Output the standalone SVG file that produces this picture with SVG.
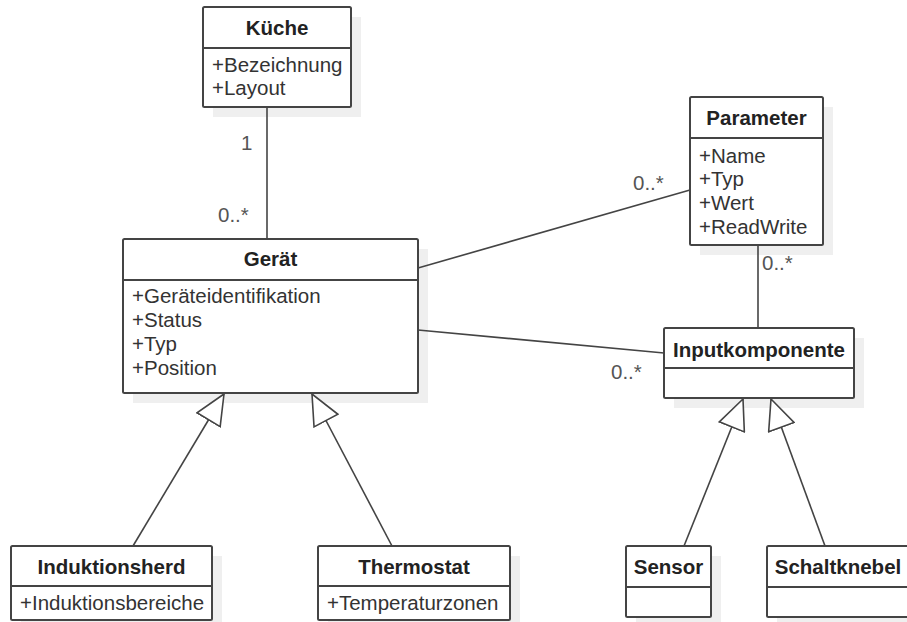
<svg xmlns="http://www.w3.org/2000/svg" width="907" height="622" viewBox="0 0 907 622">
  <style>
    .shadow { fill: #efefef; }
    .box { fill: #ffffff; stroke: #444444; stroke-width: 2; }
    .sep { stroke: #444444; stroke-width: 2; }
    .title { font-family: "Liberation Sans", Arial, sans-serif; font-size: 20.5px; font-weight: bold; fill: #222222; text-anchor: middle; }
    .attr { font-family: "Liberation Sans", Arial, sans-serif; font-size: 20.5px; fill: #333333; }
    .mult { font-family: "Liberation Sans", Arial, sans-serif; font-size: 20.5px; fill: #555555; }
    .assoc { stroke: #444444; stroke-width: 1.6; fill: none; }
    .gen { stroke: #444444; stroke-width: 1.6; fill: none; marker-end: url(#inherit); }
  </style>
  <defs>
    <marker id="inherit" markerUnits="userSpaceOnUse" viewBox="-1 -1 33 29" refX="30" refY="13.5" markerWidth="33" markerHeight="29" orient="auto">
      <path d="M30,13.5 L0,0 L0,27 Z" fill="#ffffff" stroke="#444444" stroke-width="1.6" stroke-linejoin="miter"/>
    </marker>
  </defs>

  <rect width="907" height="622" fill="#ffffff"/>

  <!-- drop shadows of the class boxes -->
  <g id="shadows">
    <rect class="shadow" x="213" y="17" width="148" height="100"/>
    <rect class="shadow" x="133" y="249" width="295" height="154"/>
    <rect class="shadow" x="700" y="107" width="133" height="148"/>
    <rect class="shadow" x="674" y="338" width="190" height="70"/>
    <rect class="shadow" x="21" y="556" width="201" height="74"/>
    <rect class="shadow" x="328" y="556" width="192" height="74"/>
    <rect class="shadow" x="636" y="556" width="85" height="71"/>
    <rect class="shadow" x="777" y="556" width="142" height="71"/>
  </g>

  <!-- associations, generalizations and multiplicities -->
  <g id="connectors">
    <line class="assoc" x1="267" y1="107" x2="267" y2="239"/>
    <line class="assoc" x1="418" y1="268" x2="690" y2="190"/>
    <line class="assoc" x1="418" y1="330" x2="664" y2="353"/>
    <line class="assoc" x1="758" y1="245" x2="758" y2="328"/>

    <line class="gen" x1="133" y1="546" x2="224" y2="394"/>
    <line class="gen" x1="392" y1="546" x2="312" y2="394"/>
    <line class="gen" x1="684" y1="546" x2="743" y2="399"/>
    <line class="gen" x1="825" y1="546" x2="771" y2="399"/>

    <text class="mult" x="241" y="150">1</text>
    <text class="mult" x="218" y="222">0..*</text>
    <text class="mult" x="633" y="190">0..*</text>
    <text class="mult" x="762" y="270">0..*</text>
    <text class="mult" x="611" y="379">0..*</text>
  </g>

  <g id="kueche">
    <rect class="box" x="203" y="7" width="148" height="100" rx="1.5"/>
    <line class="sep" x1="203" y1="48" x2="351" y2="48"/>
    <text class="title" x="277" y="35">Küche</text>
    <text class="attr" x="212" y="72">+Bezeichnung</text>
    <text class="attr" x="212" y="95">+Layout</text>
  </g>

  <g id="geraet">
    <rect class="box" x="123" y="239" width="295" height="154" rx="1.5"/>
    <line class="sep" x1="123" y1="280" x2="418" y2="280"/>
    <text class="title" x="270.5" y="266">Gerät</text>
    <text class="attr" x="132" y="302.5">+Geräteidentifikation</text>
    <text class="attr" x="132" y="326.5">+Status</text>
    <text class="attr" x="132" y="350.5">+Typ</text>
    <text class="attr" x="132" y="374.5">+Position</text>
  </g>

  <g id="parameter">
    <rect class="box" x="690" y="97" width="133" height="148" rx="1.5"/>
    <line class="sep" x1="690" y1="138" x2="823" y2="138"/>
    <text class="title" x="756.5" y="125">Parameter</text>
    <text class="attr" x="699" y="162.5">+Name</text>
    <text class="attr" x="699" y="186.3">+Typ</text>
    <text class="attr" x="699" y="210.1">+Wert</text>
    <text class="attr" x="699" y="234">+ReadWrite</text>
  </g>

  <g id="inputkomponente">
    <rect class="box" x="664" y="328" width="190" height="70" rx="1.5"/>
    <line class="sep" x1="664" y1="368" x2="854" y2="368"/>
    <text class="title" x="759" y="356.5">Inputkomponente</text>
  </g>

  <g id="induktionsherd">
    <rect class="box" x="11" y="546" width="201" height="74" rx="1.5"/>
    <line class="sep" x1="11" y1="586" x2="212" y2="586"/>
    <text class="title" x="111.5" y="574">Induktionsherd</text>
    <text class="attr" x="20" y="610">+Induktionsbereiche</text>
  </g>

  <g id="thermostat">
    <rect class="box" x="318" y="546" width="192" height="74" rx="1.5"/>
    <line class="sep" x1="318" y1="586" x2="510" y2="586"/>
    <text class="title" x="414" y="574">Thermostat</text>
    <text class="attr" x="327" y="610">+Temperaturzonen</text>
  </g>

  <g id="sensor">
    <rect class="box" x="626" y="546" width="85" height="71" rx="1.5"/>
    <line class="sep" x1="626" y1="587" x2="711" y2="587"/>
    <text class="title" x="668.5" y="573.5">Sensor</text>
  </g>

  <g id="schaltknebel">
    <rect class="box" x="767" y="546" width="142" height="71" rx="1.5"/>
    <line class="sep" x1="767" y1="587" x2="909" y2="587"/>
    <text class="title" x="838" y="573.5">Schaltknebel</text>
  </g>
</svg>
